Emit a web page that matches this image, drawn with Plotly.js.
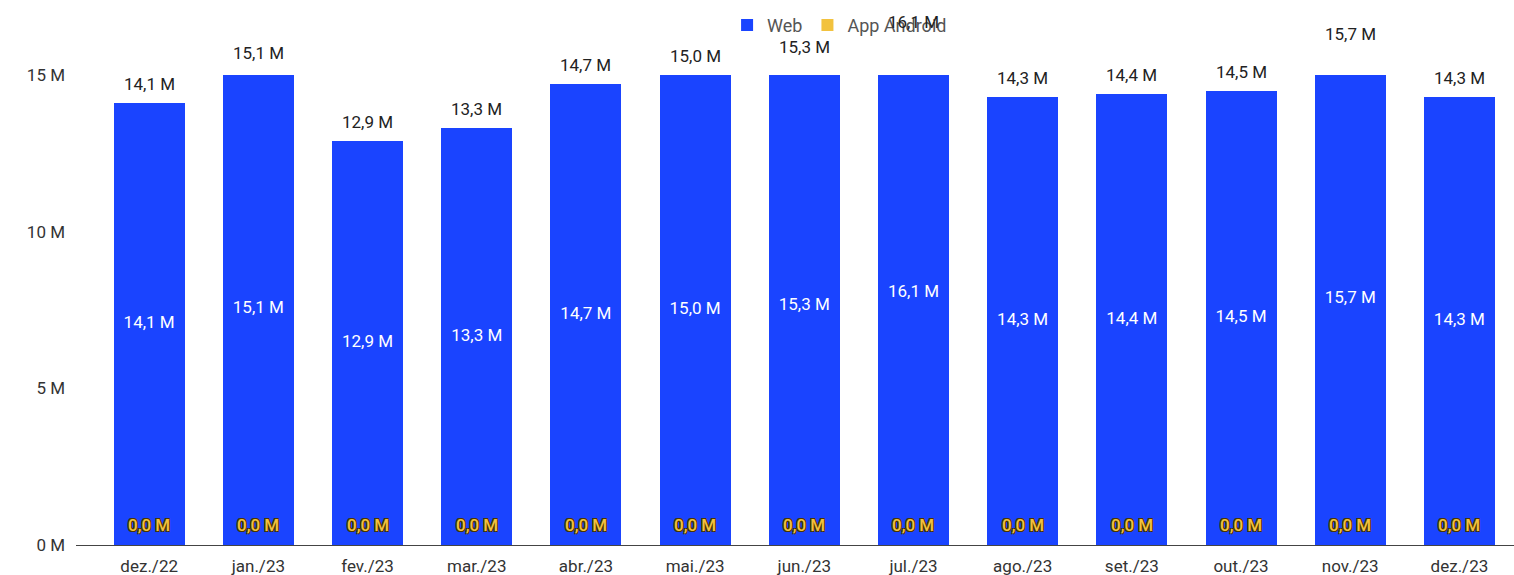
<!DOCTYPE html>
<html>
<head>
<meta charset="utf-8">
<script src="https://cdn.plot.ly/plotly-3.0.1.min.js"></script>
<style>html,body{margin:0;padding:0;background:#fff;}#chart{width:1514px;height:575px;}</style>
</head>
<body>
<div id="chart"></div>
<script>
const months = ["dez./22","jan./23","fev./23","mar./23","abr./23","mai./23","jun./23","jul./23","ago./23","set./23","out./23","nov./23","dez./23"];
const webValues = [14.1,15.1,12.9,13.3,14.7,15.0,15.3,16.1,14.3,14.4,14.5,15.7,14.3]; // millions
const androidValues = [0,0,0,0,0,0,0,0,0,0,0,0,0]; // millions
const yTickVals = [0,5,10,15];
const yTickText = ["0 M","5 M","10 M","15 M"];
const yRange = [0,15];

const fmt = v => v.toFixed(1).replace('.', ',') + ' M';
const totals = webValues.map((v,i) => v + androidValues[i]);
const FONT = 'Roboto, "Noto Sans", Arial, sans-serif';
const FS = 17;
const BLUE = '#1a44ff';
const YELLOW = '#f2c23e';
const OUTLINE = '#4a3500';

const traces = [
  {type:'bar', name:'Web', x:months, y:webValues, marker:{color:BLUE}, hoverinfo:'x+y'},
  {type:'bar', name:'App Android', x:months, y:androidValues, marker:{color:YELLOW}, hoverinfo:'x+y'},
  {type:'scatter', mode:'text', x:months, y:webValues.map(v=>v/2), text:webValues.map(fmt),
   textposition:'middle center', textfont:{family:FONT,size:FS,color:'#ffffff'}, showlegend:false, cliponaxis:false, hoverinfo:'skip'}
];

// total labels may lie above the (clipped) axis range, so they are placed in paper units of that range
const toPaper = v => (v - yRange[0]) / (yRange[1] - yRange[0]);
const annotations = [];
months.forEach((m,i) => {
  annotations.push({x:m, y:toPaper(totals[i]), xref:'x', yref:'paper', text:fmt(totals[i]), showarrow:false,
    yanchor:'middle', yshift:19, font:{family:FONT,size:FS,color:'#222222'}});
  annotations.push({x:m, y:androidValues[i], xref:'x', yref:'y', text:fmt(androidValues[i]), showarrow:false,
    yanchor:'middle', yshift:20,
    font:{family:FONT,size:FS,color:YELLOW, weight:500,
      shadow:`1px 1px 0 ${OUTLINE}, -1px -1px 0 ${OUTLINE}, 1px -1px 0 ${OUTLINE}, -1px 1px 0 ${OUTLINE}`}});
});

const layout = {
  width:1514, height:575,
  margin:{l:76, r:0, t:75, b:30, pad:0},
  paper_bgcolor:'#ffffff', plot_bgcolor:'#ffffff',
  barmode:'stack', bargap:0.35,
  font:{family:FONT, size:FS, color:'#333333'},
  showlegend:true,
  legend:{orientation:'h', x:0.531, xanchor:'center', y:1.145, yanchor:'top',
          font:{family:FONT,size:18,color:'#555555'}, bgcolor:'rgba(0,0,0,0)', traceorder:'normal'},
  annotations:annotations,
  xaxis:{type:'category', range:[-0.67,12.5], showgrid:false, zeroline:false, showline:true,
         linecolor:'#444444', linewidth:1, ticks:'', ticklabelstandoff:6,
         tickfont:{family:FONT,size:FS,color:'#333333'}, fixedrange:true},
  yaxis:{range:yRange, tickvals:yTickVals, ticktext:yTickText, showgrid:false, zeroline:false, showline:false,
         ticks:'', ticklabelstandoff:10, tickfont:{family:FONT,size:FS,color:'#333333'}, fixedrange:true}
};

Plotly.newPlot('chart', traces, layout, {displayModeBar:false, staticPlot:true});
</script>
</body>
</html>
